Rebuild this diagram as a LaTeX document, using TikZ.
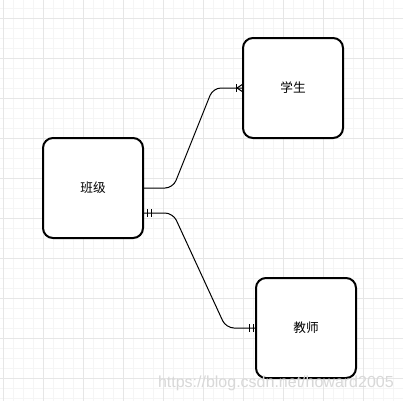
\documentclass[tikz,border=0pt]{standalone}
\usepackage{fontspec}
\newfontfamily\cjk{Noto Sans CJK SC}
\setsansfont{Liberation Sans}
\usetikzlibrary{calc}

\definecolor{gridmajor}{HTML}{E6E6E6}
\definecolor{gridminor}{HTML}{F5F5F5}
\definecolor{markgray}{HTML}{D8D8D8}

\tikzset{
	entity/.style = {draw, line width = 1.5pt, rounded corners = 7.5pt, fill = white,
		minimum size = 75pt, inner sep = 0pt, outer sep = 0pt,
		font = \cjk\fontsize{9.5}{11}\selectfont},
	relation/.style = {line width = 0.75pt, rounded corners = 6pt},
	tick/.style = {line width = 0.75pt}
}

\begin{document}
\begin{tikzpicture}[x = 0.75pt, y = -0.75pt]
	\useasboundingbox (0,0) rectangle (403,401);
	\fill[white] (0,0) rectangle (403,401);
	% grid
	\foreach \i in {0,...,40}
		\draw[gridminor, line width = 0.75pt] (3+10*\i,0) -- (3+10*\i,401);
	\foreach \i in {0,...,40}
		\draw[gridminor, line width = 0.75pt] (0,8+10*\i) -- (403,8+10*\i);
	\foreach \i in {0,...,10}
		\draw[gridmajor, line width = 0.75pt] (3+40*\i,0) -- (3+40*\i,401);
	\foreach \i in {0,...,9}
		\draw[gridmajor, line width = 0.75pt] (0,18+40*\i) -- (403,18+40*\i);

	\node[entity] (banji) at (93,188) {班级};
	\node[entity] (xuesheng) at (293,88) {学生};
	\node[entity] (jiaoshi) at (306,328) {教师};

	\coordinate (B) at ($(banji.east)+(0,25)$);

	% 班级 -- 学生 (one or many)
	\draw[relation] (banji.east) -- ++(30,0) -- ($(xuesheng.west)+(-30,0)$) -- (xuesheng.west);
	\draw[tick] ($(xuesheng.west)+(-7,-4)$) -- ++(0,8);
	\draw[tick] ($(xuesheng.west)+(-6,0)$) -- ++(6,-4)
		($(xuesheng.west)+(-6,0)$) -- ++(6,4);

	% 班级 -- 教师 (one and only one)
	\draw[relation] (B) -- ++(30,0) -- ($(jiaoshi.west)+(-30,0)$) -- (jiaoshi.west);
	\draw[tick] ($(B)+(4,-4)$) -- ++(0,8) ($(B)+(8,-4)$) -- ++(0,8);
	\draw[tick] ($(jiaoshi.west)+(-3,-4)$) -- ++(0,8) ($(jiaoshi.west)+(-7,-4)$) -- ++(0,8);

	\node[text = markgray, font = \sffamily\fontsize{12}{14}\selectfont, anchor = east, inner sep = 0pt]
		(mark) at (394,383) {https://blog.csdn.net/howard2005};
\end{tikzpicture}
\end{document}
